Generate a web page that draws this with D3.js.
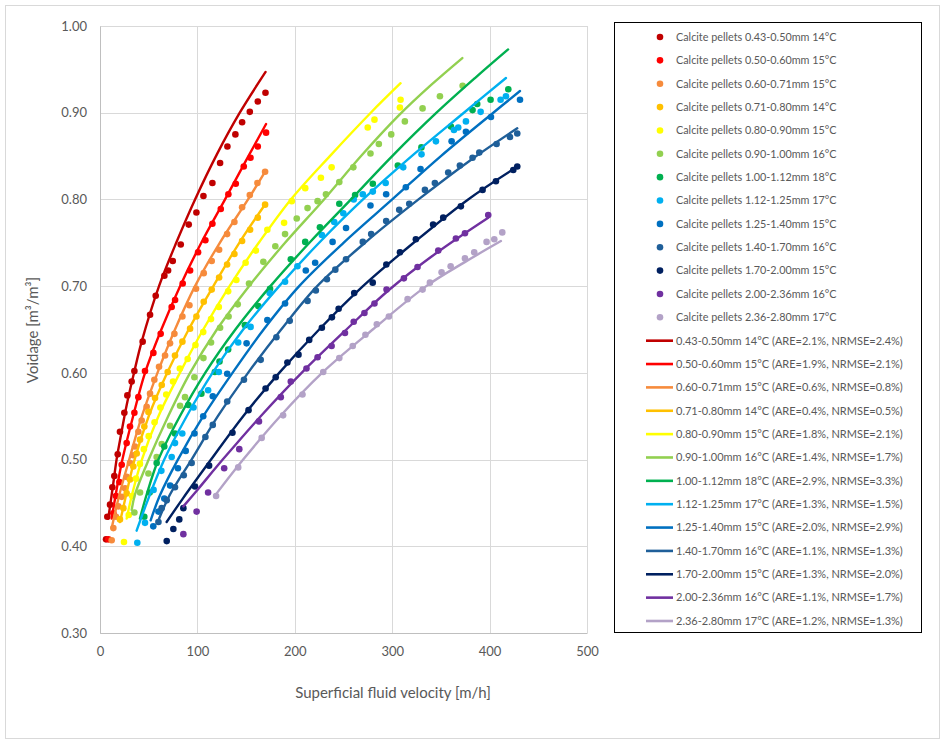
<!DOCTYPE html>
<html><head><meta charset="utf-8">
<script src="https://cdn.jsdelivr.net/npm/d3@7"></script>
<style>
body{margin:0;background:#fff}
svg{display:block}
text{font-family:Lato,"Open Sans",sans-serif;fill:#595959}
</style>
</head><body>
<svg id="chart" width="945" height="744"></svg>
<script>
// ---------- DATA ----------
const sizeLabels = ["0.43-0.50mm 14°C","0.50-0.60mm 15°C","0.60-0.71mm 15°C","0.71-0.80mm 14°C","0.80-0.90mm 15°C","0.90-1.00mm 16°C","1.00-1.12mm 18°C","1.12-1.25mm 17°C","1.25-1.40mm 15°C","1.40-1.70mm 16°C","1.70-2.00mm 15°C","2.00-2.36mm 16°C","2.36-2.80mm 17°C"];
const areValues = ["2.1%","1.9%","0.6%","0.4%","1.8%","1.4%","2.9%","1.3%","2.0%","1.1%","1.3%","1.1%","1.2%"];
const nrmseValues = ["2.4%","2.1%","0.8%","0.5%","2.1%","1.7%","3.3%","1.5%","2.9%","1.3%","2.0%","1.7%","1.3%"];
const xTicks = [0,100,200,300,400,500];
const yTicks = [0.30,0.40,0.50,0.60,0.70,0.80,0.90,1.00];

// measured points [velocity m/h, voidage]
const pts043 = [[6.2,.408],[7.5,.434],[10.3,.448],[12.7,.468],[14.7,.481],[18.2,.506],[20.5,.532],[25,.554],[28.1,.574],[32.5,.590],[35.3,.602],[43.8,.636],[51.4,.667],[57.2,.689],[66.1,.712],[69.9,.718],[74.7,.729],[82.9,.748],[91.1,.771],[99,.785],[106.2,.804],[115.4,.819],[123.3,.842],[130.8,.861],[139,.875],[145.9,.889],[153.8,.901],[162,.913],[169.9,.923]];
const pts050 = [[8.6,.408],[13.7,.438],[16.4,.458],[19.9,.474],[22.3,.494],[27.4,.519],[30.8,.538],[35.3,.554],[39.4,.572],[46.2,.602],[54.8,.623],[62.3,.645],[73.6,.676],[77.1,.684],[84.9,.703],[92.5,.718],[100.7,.739],[108.2,.753],[115.4,.772],[124,.789],[131.8,.806],[139.4,.818],[147.6,.838],[154.5,.848],[162,.861],[170.5,.877]];
const pts060 = [[12,.407],[13.7,.421],[16.4,.434],[18.8,.446],[22.3,.457],[25.7,.467],[27.4,.480],[30.8,.496],[34.2,.505],[35.9,.515],[39.4,.532],[42.8,.545],[47.9,.561],[51.4,.576],[55.8,.592],[60.6,.607],[66.8,.620],[71.9,.634],[76.4,.645],[84.6,.665],[91.8,.678],[98.6,.697],[106.5,.715],[114.7,.729],[122.3,.742],[130.5,.760],[138,.774],[145.9,.791],[153.8,.805],[161.6,.819],[169.5,.832]];
const pts071 = [[20.5,.431],[24,.444],[27.4,.461],[30.8,.477],[34.2,.492],[37.7,.507],[41.1,.523],[45.5,.538],[49.7,.555],[56.5,.571],[63.4,.586],[69.5,.601],[77,.620],[84.6,.636],[92.5,.651],[99,.665],[106.5,.682],[114.7,.696],[122.3,.710],[130.5,.725],[138,.737],[145.9,.752],[154.1,.765],[162,.779],[169.5,.794]];
const pts080 = [[24.6,.405],[29.5,.436],[33,.458],[37,.478],[41,.495],[45,.512],[50,.527],[56,.543],[62,.560],[68,.575],[75,.590],[82,.605],[90,.616],[98,.632],[106,.647],[114,.662],[122,.676],[131.6,.694],[140,.707],[149.5,.727],[160,.741],[171.8,.765],[189,.773],[196.9,.798],[210.7,.813],[226.8,.825],[237.8,.837],[274.9,.883],[281.8,.892],[307.9,.906],[308.6,.915]];
const pts090 = [[35.3,.439],[41.1,.462],[49.7,.484],[58.2,.503],[63.4,.518],[71.9,.539],[82.2,.562],[87.3,.572],[96.9,.595],[106.2,.617],[114,.635],[123.3,.652],[132,.665],[141.4,.679],[153,.703],[167.7,.728],[180,.746],[190,.760],[202,.778],[213.1,.790],[223.4,.798],[232,.806],[245.7,.820],[260.1,.837],[277.7,.853],[286.3,.864],[299,.875],[313,.890],[331.2,.905],[349,.919],[372.3,.931]];
const pts100 = [[45.5,.434],[51,.462],[58.2,.496],[66,.515],[77,.530],[90.7,.563],[104.1,.576],[117.9,.601],[122.7,.613],[131.6,.627],[148.8,.655],[162.5,.677],[174.6,.697],[195.9,.731],[210.7,.751],[225.8,.768],[245.7,.795],[261.9,.805],[280.1,.818],[305.8,.839],[330,.860],[360.3,.884],[382.5,.903],[387.3,.910],[401,.915],[419.2,.927]];
const pts112 = [[38.3,.404],[46.2,.427],[55,.465],[63,.487],[73.6,.503],[77,.519],[84.5,.530],[96,.560],[111,.580],[122,.601],[141.9,.635],[154.6,.653],[174.2,.692],[190,.705],[202.7,.723],[227.8,.759],[240.5,.774],[249.8,.784],[260.5,.800],[269.8,.806],[280.1,.809],[293.3,.819],[311.3,.837],[330.1,.852],[344.9,.867],[363.4,.880],[367.8,.883],[375.7,.890],[390.8,.901],[411.3,.915],[416.8,.919]];
const pts125 = [[54.7,.423],[60,.44],[66,.455],[72,.47],[80,.49],[88,.51],[97,.53],[106,.55],[115.8,.573],[130.6,.599],[150.5,.634],[171.8,.661],[190,.68],[211.3,.718],[220.9,.727],[238.8,.751],[252.6,.767],[277.7,.793],[293.8,.806],[314,.814],[329.1,.835],[361,.867],[375.7,.878],[401.4,.895],[431.2,.915]];
const pts140 = [[60,.428],[63.3,.444],[68.5,.453],[77,.468],[86,.482],[94.1,.496],[108.2,.526],[115.8,.540],[130.6,.567],[147.8,.592],[165,.615],[181.1,.641],[194.8,.660],[213.1,.683],[221.6,.695],[233,.708],[241.6,.719],[252.6,.731],[269.8,.751],[278.4,.760],[293.8,.775],[307.2,.788],[317.5,.795],[333.6,.811],[343.8,.819],[357.5,.831],[369.5,.839],[382.5,.848],[389.4,.854],[407.2,.864],[420.9,.872],[428.4,.876]];
const pts170 = [[68.5,.406],[75.3,.420],[81.4,.431],[85.6,.444],[97.5,.469],[112,.493],[136,.531],[152.5,.557],[170,.582],[180.4,.595],[192.4,.612],[203.8,.621],[214.8,.638],[227.8,.652],[238.1,.664],[245,.674],[261,.692],[280,.704],[294,.725],[308,.739],[324.3,.754],[342,.771],[352.4,.779],[370.5,.792],[392.8,.811],[406.5,.821],[424.3,.834],[428.4,.838]];
const pts200 = [[85.6,.414],[99.2,.440],[111,.462],[127.5,.490],[143,.512],[163.2,.544],[185.6,.572],[195.9,.590],[212,.605],[223.4,.618],[237.8,.631],[251.5,.646],[260.5,.659],[271.5,.669],[281.8,.680],[294.2,.696],[312,.709],[326,.722],[347.3,.741],[365.4,.755],[374.7,.761],[398.6,.782]];
const pts236 = [[119.2,.458],[141.9,.491],[166,.525],[188,.551],[207.9,.575],[229.2,.601],[245.7,.617],[259.5,.631],[272.5,.644],[284.2,.656],[296.6,.665],[315.8,.685],[331.2,.696],[338.7,.704],[350.7,.716],[360,.723],[374.7,.732],[384.2,.739],[396.9,.751],[404.8,.754],[413,.762]];

// fitted model curves [velocity m/h, voidage]
const fit043 = [[8.5,.432],[13.7,.473],[17,.50],[20.5,.522],[27.4,.563],[34.9,.60],[42.8,.636],[60.6,.70],[79,.752],[97.6,.80],[120,.852],[143.5,.90],[170,.947]];
const fit050 = [[12,.432],[17,.465],[23,.50],[34,.55],[46.2,.60],[63,.65],[82.2,.70],[104,.75],[128.4,.80],[150,.845],[170.5,.887]];
const fit060 = [[12,.421],[20,.46],[30,.50],[43,.55],[59,.60],[77,.65],[97.6,.70],[123,.75],[152,.80],[170,.833]];
const fit071 = [[20.5,.428],[27,.46],[35.5,.50],[50,.55],[69,.60],[91,.65],[116.4,.70],[143,.75],[170,.795]];
const fit080 = [[27.4,.432],[33,.46],[43,.50],[60,.55],[82,.60],[106,.65],[133,.70],[163,.75],[196,.80],[236,.85],[278,.90],[308.6,.934]];
const fit090 = [[32.5,.442],[36,.46],[50,.50],[70,.55],[92.5,.60],[120,.65],[153,.70],[190,.75],[230,.80],[268,.85],[306,.896],[340,.932],[372,.963]];
const fit100 = [[41,.432],[48,.46],[60,.50],[82,.55],[108,.60],[139,.65],[175,.70],[215,.75],[257.7,.80],[300,.85],[345.5,.90],[385,.94],[419,.973]];
const fit112 = [[37.6,.418],[48,.45],[66,.50],[89,.55],[115.5,.60],[147,.65],[184,.70],[225,.75],[270,.80],[320,.85],[373.6,.90],[416.8,.940]];
const fit125 = [[52,.43],[62,.46],[80,.50],[106,.55],[136,.60],[168,.65],[204.5,.70],[250,.75],[300,.80],[350,.85],[403.8,.90],[431.2,.925]];
const fit140 = [[60,.43],[72,.46],[94,.50],[121,.55],[152,.60],[186,.65],[223,.70],[272,.75],[327,.80],[380,.845],[428.4,.882]];
const fit170 = [[68.4,.428],[85,.455],[114,.50],[147,.55],[184,.60],[225,.65],[270,.70],[322,.75],[378,.80],[429.5,.8385]];
const fit200 = [[85.6,.446],[100,.465],[126,.50],[165,.55],[207,.60],[253,.65],[296,.695],[345,.738],[398.6,.779]];
const fit236 = [[119.8,.461],[147,.50],[185,.55],[228,.60],[280,.65],[335,.70],[375,.728],[411.6,.752]];

const measuredSets = [pts043,pts050,pts060,pts071,pts080,pts090,pts100,pts112,pts125,pts140,pts170,pts200,pts236];
const fitSets = [fit043,fit050,fit060,fit071,fit080,fit090,fit100,fit112,fit125,fit140,fit170,fit200,fit236];

// ---------- STYLE ----------
const colors = ["#C00000","#FF0000","#F68B3C","#FFC000","#FFFF00","#92D050","#00B050","#00B0F0","#0070C0","#1F5F99","#002060","#7030A0","#B3A2C7"];

// ---------- DRAW ----------
const svg = d3.select("#chart");
svg.append("rect").attr("x",5.5).attr("y",5.5).attr("width",934).attr("height",733)
  .attr("fill","#fff").attr("stroke","#d9d9d9");

const x = d3.scaleLinear().domain([0,500]).range([100,587]);
const y = d3.scaleLinear().domain([0.30,1.00]).range([633,26]);

// grid
const grid = svg.append("g");
grid.selectAll("line.h").data(yTicks).join("line")
  .attr("x1",x(0)).attr("x2",x(500)).attr("y1",d=>Math.round(y(d))+0.5).attr("y2",d=>Math.round(y(d))+0.5)
  .attr("stroke","#d9d9d9").attr("stroke-width",1);
grid.selectAll("line.v").data(xTicks).join("line")
  .attr("y1",y(0.30)).attr("y2",y(1.00)).attr("x1",d=>Math.round(x(d))+0.5).attr("x2",d=>Math.round(x(d))+0.5)
  .attr("stroke","#d9d9d9").attr("stroke-width",1);

// axes (tick labels)
const xAxis = d3.axisBottom(x).tickValues(xTicks).tickSize(0).tickPadding(14).tickFormat(d3.format("d"));
const gx = svg.append("g").attr("transform",`translate(0,${y(0.30)})`).call(xAxis);
gx.select(".domain").attr("stroke","#bfbfbf");
gx.selectAll("text").attr("font-size",13).attr("font-family","Lato").attr("fill","#595959");
const yAxis = d3.axisLeft(y).tickValues(yTicks).tickSize(0).tickPadding(13).tickFormat(d3.format(".2f"));
const gy = svg.append("g").attr("transform",`translate(${x(0)},0)`).call(yAxis);
gy.select(".domain").attr("stroke","#bfbfbf");
gy.selectAll("text").attr("font-size",13).attr("font-family","Lato").attr("fill","#595959");

// axis titles
svg.append("text").attr("x",393).attr("y",698).attr("text-anchor","middle")
  .attr("font-size",15).text("Superficial fluid velocity [m/h]");
svg.append("text").attr("transform","translate(38,330) rotate(-90)").attr("text-anchor","middle")
  .attr("font-size",15).text("Voidage [m³/m³]");

// measured points
measuredSets.forEach((set,i)=>{
  svg.append("g").selectAll("circle").data(set).join("circle")
    .attr("cx",d=>x(d[0])).attr("cy",d=>y(d[1])).attr("r",3.3).attr("fill",colors[i]);
});
// fitted curves
const line = d3.line().x(d=>x(d[0])).y(d=>y(d[1])).curve(d3.curveCatmullRom.alpha(0.5));
fitSets.forEach((set,i)=>{
  svg.append("path").datum(set).attr("d",line).attr("fill","none")
    .attr("stroke",colors[i]).attr("stroke-width",2.4).attr("stroke-linecap","round");
});

// legend
const lg = svg.append("g");
lg.append("rect").attr("x",614.5).attr("y",22.5).attr("width",307).attr("height",610)
  .attr("fill","#fff").attr("stroke","#000").attr("stroke-width",1);
const top0 = 37, step = 23.36;
sizeLabels.forEach((lab,i)=>{
  const yy = top0 + i*step;
  lg.append("circle").attr("cx",660).attr("cy",yy).attr("r",3.3).attr("fill",colors[i]);
  lg.append("text").attr("x",676).attr("y",yy).attr("dy","0.35em").attr("font-size",10.8)
    .text("Calcite pellets " + lab);
});
sizeLabels.forEach((lab,i)=>{
  const yy = top0 + (13+i)*step;
  lg.append("line").attr("x1",646).attr("x2",673).attr("y1",yy).attr("y2",yy)
    .attr("stroke",colors[i]).attr("stroke-width",2.6);
  lg.append("text").attr("x",676).attr("y",yy).attr("dy","0.35em").attr("font-size",11)
    .text(`${lab} (ARE=${areValues[i]}, NRMSE=${nrmseValues[i]})`);
});
</script>
</body></html>
